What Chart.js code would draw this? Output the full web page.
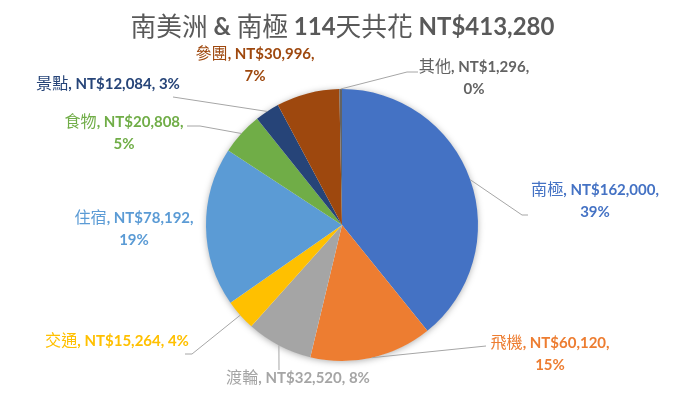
<!DOCTYPE html>
<html>
<head>
<meta charset="utf-8">
<script src="https://cdn.jsdelivr.net/npm/chart.js@4.4.1/dist/chart.umd.min.js"></script>
<style>
  html, body { margin: 0; padding: 0; background: #ffffff; }
  #wrap { width: 687px; height: 400px; position: relative; }
</style>
</head>
<body>
<div id="wrap"><canvas id="c" width="687" height="400"></canvas></div>
<script>
// ---- data ----
const chartTitle = '南美洲 & 南極 114天共花 NT$413,280';
const categories = ['南極', '飛機', '渡輪', '交通', '住宿', '食物', '景點', '參團', '其他'];
const amounts = [162000, 60120, 32520, 15264, 78192, 20808, 12084, 30996, 1296];
const percentLabels = [39, 15, 8, 4, 19, 5, 3, 7, 0];
const sliceColors = ['#4472C4', '#ED7D31', '#A5A5A5', '#FFC000', '#5B9BD5', '#70AD47', '#264478', '#9E480E', '#636363'];

// ---- layout of data labels (offsets from pie centre, px) ----
const labelLayout = [
  { pos: [253, -25], twoLines: true,  leader: [[180, -10], [186, -10]] },
  { pos: [208, 128], twoLines: true,  leader: [[144, 121]] },
  { pos: [-44, 152], twoLines: false, leader: [[-63, 145]] },
  { pos: [-225, 115], twoLines: false, leader: [[-150, 129], [-157, 129]] },
  { pos: [-208, 3],  twoLines: true,  leader: null },
  { pos: [-218, -93], twoLines: true, leader: [[-142, -99], [-155, -99]] },
  { pos: [-234, -142], twoLines: false, leader: [[-169, -128]] },
  { pos: [-87, -161], twoLines: true, leader: null },
  { pos: [132, -148], twoLines: true, leader: [[65, -153], [76, -153]] }
];

const CJK_FONT = '"Noto Sans CJK TC", "Noto Sans CJK SC", sans-serif';
const LAT_FONT = 'Lato, "Open Sans", sans-serif';
const CJK_SCALE = 1.07;

function splitRuns(text) {
  const runs = [];
  for (const ch of text) {
    const cjk = /[\u2E80-\u9FFF\uF900-\uFAFF\u3000-\u303F]/.test(ch);
    if (runs.length && runs[runs.length - 1].cjk === cjk) runs[runs.length - 1].t += ch;
    else runs.push({ t: ch, cjk });
  }
  return runs;
}
function setFont(ctx, cjk, size) {
  ctx.font = cjk ? `400 ${(size * CJK_SCALE).toFixed(1)}px ${CJK_FONT}` : `700 ${size}px ${LAT_FONT}`;
}
function measureMixed(ctx, text, size) {
  let w = 0;
  for (const r of splitRuns(text)) { setFont(ctx, r.cjk, size); w += ctx.measureText(r.t).width; }
  return w;
}
function drawMixed(ctx, text, cx, cy, size, color) {
  const w = measureMixed(ctx, text, size);
  let x = cx - w / 2;
  ctx.fillStyle = color;
  ctx.textBaseline = 'middle';
  ctx.textAlign = 'left';
  for (const r of splitRuns(text)) {
    setFont(ctx, r.cjk, size);
    ctx.fillText(r.t, x, cy + (r.cjk ? 0 : 1));
    x += ctx.measureText(r.t).width;
  }
}
const fmt = v => 'NT$' + v.toLocaleString('en-US');

const titlePlugin = {
  id: 'mixedTitle',
  afterDraw(chart) {
    const ctx = chart.ctx;
    ctx.save();
    drawMixed(ctx, chartTitle, chart.width / 2 - 1, 26, 24, '#595959');
    ctx.restore();
  }
};

const shadowPlugin = {
  id: 'pieShadow',
  beforeDatasetsDraw(chart) {
    const arc = chart.getDatasetMeta(0).data[0];
    if (!arc) return;
    const { x, y, outerRadius } = arc.getProps(['x', 'y', 'outerRadius'], true);
    const ctx = chart.ctx;
    ctx.save();
    ctx.shadowColor = 'rgba(0,0,0,0.35)';
    ctx.shadowBlur = 7;
    ctx.shadowOffsetX = 0;
    ctx.shadowOffsetY = 1;
    ctx.beginPath();
    ctx.arc(x, y, outerRadius - 0.5, 0, Math.PI * 2);
    ctx.fillStyle = '#ffffff';
    ctx.fill();
    ctx.restore();
  }
};

const labelPlugin = {
  id: 'pieLabels',
  afterDatasetsDraw(chart) {
    const ctx = chart.ctx;
    const meta = chart.getDatasetMeta(0);
    const size = 15;
    const lineGap = 22;
    ctx.save();
    meta.data.forEach((arc, i) => {
      const p = arc.getProps(['x', 'y', 'startAngle', 'endAngle', 'outerRadius'], true);
      const L = labelLayout[i];
      if (L.leader) {
        const mid = (p.startAngle + p.endAngle) / 2;
        ctx.beginPath();
        ctx.moveTo(p.x + Math.cos(mid) * p.outerRadius, p.y + Math.sin(mid) * p.outerRadius);
        L.leader.forEach(pt => ctx.lineTo(p.x + pt[0], p.y + pt[1]));
        ctx.strokeStyle = '#A6A6A6';
        ctx.lineWidth = 1;
        ctx.stroke();
      }
      const cx = p.x + L.pos[0], cy = p.y + L.pos[1];
      const name = categories[i] + ', ' + fmt(amounts[i]) + ',';
      const pct = percentLabels[i] + '%';
      if (L.twoLines) {
        drawMixed(ctx, name, cx, cy - lineGap / 2, size, sliceColors[i]);
        drawMixed(ctx, pct, cx, cy + lineGap / 2, size, sliceColors[i]);
      } else {
        drawMixed(ctx, name + ' ' + pct, cx, cy, size, sliceColors[i]);
      }
    });
    ctx.restore();
  }
};

new Chart(document.getElementById('c'), {
  type: 'pie',
  data: {
    labels: categories,
    datasets: [{
      data: amounts,
      backgroundColor: sliceColors,
      borderWidth: 0,
      hoverOffset: 0
    }]
  },
  options: {
    responsive: false,
    animation: false,
    events: [],
    layout: { padding: { left: 206, right: 209, top: 89, bottom: 39 } },
    plugins: {
      legend: { display: false },
      title: { display: false },
      tooltip: { enabled: false }
    }
  },
  plugins: [shadowPlugin, labelPlugin, titlePlugin]
});
</script>
</body>
</html>
